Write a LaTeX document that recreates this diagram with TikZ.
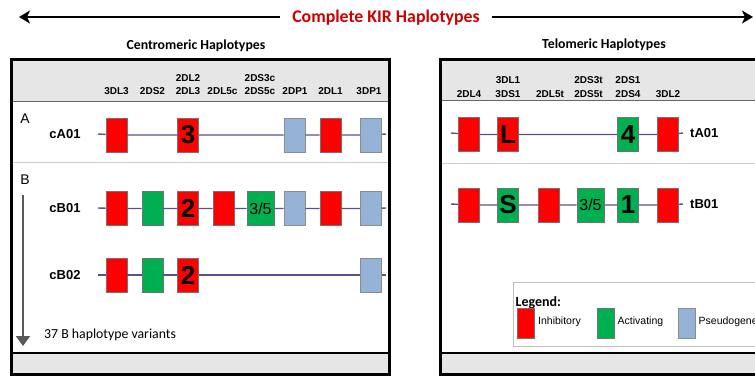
\documentclass[tikz,border=0pt]{standalone}
\usepackage{fontspec}
\setmainfont{Liberation Sans}
\newfontfamily\carlito{Carlito}
\usetikzlibrary{arrows.meta}
\definecolor{inh}{HTML}{FF0000}
\definecolor{act}{HTML}{00B050}
\definecolor{pse}{HTML}{95B3D7}
\definecolor{hdr}{HTML}{E6E6E6}
\definecolor{rowline}{HTML}{5E4E8C}
\definecolor{titlered}{HTML}{CC0000}
\tikzset{
  gene/.style={draw=black!55, line width=0.6pt, minimum width=21pt, minimum height=34pt,
    inner sep=0pt, font=\bfseries\fontsize{26}{26}\selectfont},
  inhib/.style={gene, fill=inh},
  activ/.style={gene, fill=act},
  pseudo/.style={gene, fill=pse, draw=black!45},
  widebox/.style={minimum width=27pt},
  smalltxt/.style={font=\fontsize{16}{16}\selectfont},
  rowln/.style={draw=rowline, line width=1.4pt},
  colhead/.style={font=\bfseries\fontsize{10}{11}\selectfont, inner sep=0pt, anchor=base},
  rowlab/.style={font=\bfseries\fontsize{13}{13}\selectfont, inner sep=0pt},
  frame/.style={line width=3pt, draw=black},
  band/.style={fill=hdr},
  sepline/.style={draw=black!20, line width=0.8pt},
  bigarrow/.style={line width=2pt, -{Stealth[length=11pt,width=13pt,inset=3pt]}},
  swatch/.style={gene, minimum width=17pt, minimum height=30pt},
  legtxt/.style={font=\fontsize{10.5}{11}\selectfont, inner sep=0pt, anchor=west},
}
\begin{document}
\begin{tikzpicture}[x=1pt,y=-1pt]
\useasboundingbox (0,0) rectangle (755,378);
\clip (0,0) rectangle (755,378);

% ---------- title ----------
\node[font=\carlito\bfseries\fontsize{17.8}{18}\selectfont, text=titlered, outer xsep=12pt, inner sep=0pt]
  (title) at (386,18) {Complete KIR Haplotypes};
\coordinate (la) at (19,17);
\coordinate (ra) at (753,17);
\draw[bigarrow] (title.west |- la) -- (la);
\draw[bigarrow] (title.east |- ra) -- (ra);

\node[font=\carlito\bfseries\fontsize{13.8}{14}\selectfont, inner sep=0pt] (cenT) at (196,46) {Centromeric Haplotypes};
\node[font=\carlito\bfseries\fontsize{13.8}{14}\selectfont, inner sep=0pt] (telT) at (604,45) {Telomeric Haplotypes};

% ---------- centromeric panel ----------
\fill[band] (11.5,59.5) rectangle (389,101);
\fill[band] (11.5,353) rectangle (389,374.5);
\draw[black!60, line width=0.8pt] (11.5,101) -- (389,101);
\draw[black, line width=1.5pt] (11.5,353) -- (389,353);
\draw[sepline] (13,162) -- (388,162);
\draw[frame] (11.5,59.5) rectangle (389,374.5);

% column headers
\node[colhead] (h1) at (116.5,94.5) {3DL3};
\node[colhead] (h2) at (152.5,94.5) {2DS2};
\node[colhead] (h3a) at (188,81.5) {2DL2};
\node[colhead] (h3b) at (188,94.5) {2DL3};
\node[colhead] (h4) at (222.5,94.5) {2DL5c};
\node[colhead] (h5a) at (260,81.5) {2DS3c};
\node[colhead] (h5b) at (260,94.5) {2DS5c};
\node[colhead] (h6) at (295,94.5) {2DP1};
\node[colhead] (h7) at (330.5,94.5) {2DL1};
\node[colhead] (h8) at (369,94.5) {3DP1};

% group letters
\node[font=\fontsize{14}{14}\selectfont, inner sep=0pt] (lA) at (25,119) {A};
\node[font=\fontsize{14}{14}\selectfont, inner sep=0pt] (lB) at (25,180) {B};
\coordinate (bs) at (23,195);
\coordinate (be) at (23,346);
\draw[line width=2pt, draw=black!65, -{Triangle[length=10pt,width=14pt]}, fill=black!65] (bs) -- (be);
\node[font=\carlito\fontsize{13.8}{14}\selectfont, inner sep=0pt, anchor=west] (var) at (44,335) {37 B haplotype variants};

% row cA01
\node[rowlab] (cA) at (65,134) {cA01};
\coordinate (cAs) at (98,134);
\coordinate (cAe) at (386,134);
\node[inhib] (cA1) at (116.5,135) {};
\node[inhib] (cA3) at (188,135) {3};
\node[pseudo] (cA6) at (294.5,135) {};
\node[inhib] (cA7) at (330.5,135) {};
\node[pseudo] (cA8) at (371,135) {};
\draw[rowln] (cAs) -- (cA1) -- (cA3) -- (cA6) -- (cA7) -- (cA8) -- (cAe);

% row cB01
\node[rowlab] (cB) at (65,208) {cB01};
\coordinate (cBs) at (98,208);
\coordinate (cBe) at (386,208);
\node[inhib] (cB1) at (116.5,208.5) {};
\node[activ] (cB2) at (152.5,208.5) {};
\node[inhib] (cB3) at (188,208.5) {2};
\node[inhib] (cB4) at (223.5,208.5) {};
\node[activ, widebox, smalltxt] (cB5) at (260.5,208.5) {3/5};
\node[pseudo] (cB6) at (294.5,208.5) {};
\node[inhib] (cB7) at (330.5,208.5) {};
\node[pseudo] (cB8) at (371,208.5) {};
\draw[rowln] (cBs) -- (cB1) -- (cB2) -- (cB3) -- (cB4) -- (cB5) -- (cB6) -- (cB7) -- (cB8) -- (cBe);

% row cB02
\node[rowlab] (cC) at (65,275) {cB02};
\coordinate (cCs) at (98,275);
\coordinate (cCe) at (386,275);
\node[inhib] (cC1) at (116.5,275) {};
\node[activ] (cC2) at (152.5,275) {};
\node[inhib] (cC3) at (188,275) {2};
\node[pseudo] (cC8) at (371,275) {};
\draw[rowln] (cCs) -- (cC1) -- (cC2) -- (cC3) -- (cC8) -- (cCe);

% ---------- telomeric panel ----------
\fill[band] (440.5,59.5) rectangle (790,100);
\fill[band] (440.5,353) rectangle (790,374.5);
\draw[black!60, line width=0.8pt] (440.5,100) -- (790,100);
\draw[black, line width=1.5pt] (440.5,353) -- (790,353);
\draw[sepline] (442,163) -- (790,163);
\draw[frame] (440.5,59.5) rectangle (790,374.5);

\node[colhead] (t1) at (469,97.5) {2DL4};
\node[colhead] (t2a) at (508,83.5) {3DL1};
\node[colhead] (t2b) at (508,97.5) {3DS1};
\node[colhead] (t3) at (550,97.5) {2DL5t};
\node[colhead] (t4a) at (588.5,83.5) {2DS3t};
\node[colhead] (t4b) at (588.5,97.5) {2DS5t};
\node[colhead] (t5a) at (628,83.5) {2DS1};
\node[colhead] (t5b) at (628,97.5) {2DS4};
\node[colhead] (t6) at (668,97.5) {3DL2};

% row tA01
\coordinate (tAs) at (451,133);
\coordinate (tAe) at (683,133);
\node[inhib] (tA1) at (469,134.5) {};
\node[inhib] (tA2) at (508,134.5) {L};
\node[activ] (tA5) at (628,134.5) {4};
\node[inhib] (tA6) at (668,134.5) {};
\node[rowlab, anchor=west] (tA) at (690,133) {tA01};
\draw[rowln] (tAs) -- (tA1) -- (tA2) -- (tA5) -- (tA6) -- (tAe);

% row tB01
\coordinate (tBs) at (451,204);
\coordinate (tBe) at (683,204);
\node[inhib] (tB1) at (469,205) {};
\node[activ] (tB2) at (508,205) {S};
\node[inhib] (tB3) at (549,205) {};
\node[activ, widebox, smalltxt] (tB4) at (590.5,205) {3/5};
\node[activ] (tB5) at (628,205) {1};
\node[inhib] (tB6) at (668,205) {};
\node[rowlab, anchor=west] (tB) at (690,204) {tB01};
\draw[rowln] (tBs) -- (tB1) -- (tB2) -- (tB3) -- (tB4) -- (tB5) -- (tB6) -- (tBe);

% legend
\draw[draw=black!25, fill=white, line width=0.8pt] (513,282) rectangle (800,346);
\node[font=\carlito\bfseries\fontsize{14}{14}\selectfont, inner sep=0pt, anchor=west] (leg) at (515.5,303) {Legend:};
\node[swatch, fill=inh] (s1) at (525.5,323) {};
\node[legtxt] (s1t) at (538,322) {Inhibitory};
\node[swatch, fill=act] (s2) at (606,323) {};
\node[legtxt] (s2t) at (617.5,322) {Activating};
\node[swatch, fill=pse, draw=black!45] (s3) at (687,323) {};
\node[legtxt] (s3t) at (698.5,322) {Pseudogene};
\end{tikzpicture}
\end{document}
